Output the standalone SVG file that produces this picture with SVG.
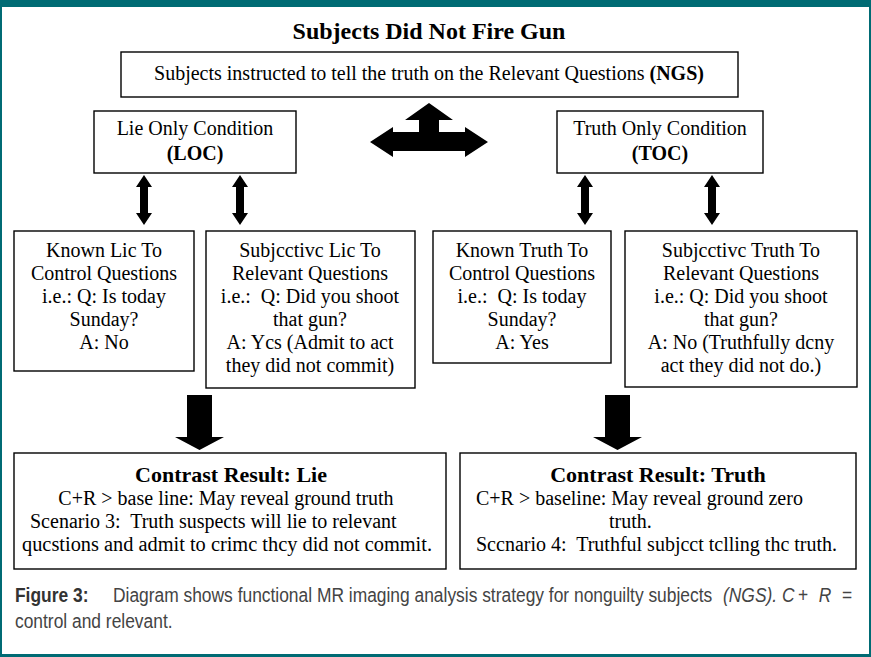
<svg xmlns="http://www.w3.org/2000/svg" width="871" height="657" viewBox="0 0 871 657">
<style>
.box{fill:#fff;stroke:#000;stroke-width:1.4}
.t{font-family:"Liberation Serif","Times New Roman",serif;font-size:20px;fill:#000;text-anchor:middle}
.tl{font-family:"Liberation Serif","Times New Roman",serif;font-size:20px;fill:#000}
.b{font-weight:bold}
.arr{fill:#000}
.cap{font-family:"Liberation Sans",Arial,sans-serif;font-size:20px;fill:#444}
.it{font-style:italic}
</style>
<rect x="0" y="0" width="871" height="657" fill="#fff"/>
<rect x="0" y="0" width="871" height="7" fill="#006b74"/>
<rect x="0" y="0" width="2" height="657" fill="#006b74"/>
<rect x="869" y="0" width="2" height="657" fill="#006b74"/>
<rect x="0" y="654" width="871" height="3" fill="#006b74"/>

<text id="title" class="t b" x="429" y="39" style="font-size:24px">Subjects Did Not Fire Gun</text>

<g id="ngs">
<rect class="box" x="121" y="52" width="617" height="45"/>
<text class="t" x="429" y="80">Subjects instructed to tell the truth on the Relevant Questions <tspan class="b">(NGS)</tspan></text>
</g>
<g id="loc">
<rect class="box" x="94" y="111" width="202" height="62"/>
<text class="t" x="195" y="135">Lie Only Condition</text>
<text class="t b" x="195" y="160">(LOC)</text>
</g>
<g id="toc">
<rect class="box" x="557" y="111" width="206" height="62"/>
<text class="t" x="660" y="135">Truth Only Condition</text>
<text class="t b" x="660" y="160">(TOC)</text>
</g>
<g id="knownlie">
<rect class="box" x="14" y="231" width="180" height="140"/>
<text class="t" x="104" y="257">Known Lic To</text>
<text class="t" x="104" y="280">Control Questions</text>
<text class="t" x="104" y="303">i.e.: Q: Is today</text>
<text class="t" x="104" y="326">Sunday?</text>
<text class="t" x="104" y="349">A: No</text>
</g>
<g id="subjlie">
<rect class="box" x="206" y="231" width="209" height="157"/>
<text class="t" x="310" y="257">Subjcctivc Lic To</text>
<text class="t" x="310" y="280">Relevant Questions</text>
<text class="t" x="310" y="303" xml:space="preserve">i.e.:  Q: Did you shoot</text>
<text class="t" x="310" y="326">that gun?</text>
<text class="t" x="310" y="349">A: Ycs (Admit to act</text>
<text class="t" x="310" y="372">they did not commit)</text>
</g>
<g id="knowntruth">
<rect class="box" x="433" y="231" width="178" height="132"/>
<text class="t" x="522" y="257">Known Truth To</text>
<text class="t" x="522" y="280">Control Questions</text>
<text class="t" x="522" y="303" xml:space="preserve">i.e.:  Q: Is today</text>
<text class="t" x="522" y="326">Sunday?</text>
<text class="t" x="522" y="349">A: Yes</text>
</g>
<g id="subjtruth">
<rect class="box" x="625" y="231" width="232" height="156"/>
<text class="t" x="741" y="257">Subjcctivc Truth To</text>
<text class="t" x="741" y="280">Relevant Questions</text>
<text class="t" x="741" y="303">i.e.: Q: Did you shoot</text>
<text class="t" x="741" y="326">that gun?</text>
<text class="t" x="741" y="349">A: No (Truthfully dcny</text>
<text class="t" x="741" y="372">act they did not do.)</text>
</g>
<g id="resultlie">
<rect class="box" x="14" y="453" width="432" height="116"/>
<text class="t b" x="231" y="482" style="font-size:22px">Contrast Result: Lie</text>
<text class="t" x="226" y="505">C+R &gt; base line: May reveal ground truth</text>
<text class="tl" x="30" y="528" xml:space="preserve">Scenario 3:  Truth suspects will lie to relevant</text>
<text class="tl" x="22" y="551" textLength="410" lengthAdjust="spacingAndGlyphs">qucstions and admit to crimc thcy did not commit.</text>
</g>
<g id="resulttruth">
<rect class="box" x="460" y="453" width="396" height="116"/>
<text class="t b" x="658" y="482" style="font-size:22px">Contrast Result: Truth</text>
<text class="tl" x="476" y="505">C+R &gt; baseline: May reveal ground zero</text>
<text class="tl" x="609" y="528">truth.</text>
<text class="tl" x="476" y="551" xml:space="preserve">Sccnario 4:  Truthful subjcct tclling thc truth.</text>
</g>

<g id="connectors">
<polygon class="arr" points="370,142 393,127 393,132 419,132 419,120 405,120 429,103 453,120 439,120 439,132 465,132 465,127 488,142 465,157 465,151 393,151 393,157"/>
<polygon class="arr" points="144,175 152,187 148,187 148,213 152,213 144,225 136,213 140,213 140,187 136,187"/>
<polygon class="arr" points="240,175 248,187 244,187 244,213 248,213 240,225 232,213 236,213 236,187 232,187"/>
<polygon class="arr" points="585,175 593,187 589,187 589,213 593,213 585,225 577,213 581,213 581,187 577,187"/>
<polygon class="arr" points="712,175 720,187 716,187 716,213 720,213 712,225 704,213 708,213 708,187 704,187"/>
<polygon class="arr" points="187,395 212,395 212,437 224,437 199.5,450 175,437 187,437"/>
<polygon class="arr" points="605,395 630,395 630,437 642,437 617.5,450 593,437 605,437"/>
</g>

<g id="caption" transform="translate(15 0) scale(0.87 1)">
<text class="cap" x="0" y="602"><tspan style="font-weight:bold;fill:#333">Figure 3:</tspan><tspan x="112.6">Diagram shows functional MR imaging analysis strategy for nonguilty subjects</tspan><tspan class="it" x="813.8">(NGS).</tspan><tspan class="it" x="881.6">C</tspan><tspan x="900">+</tspan><tspan class="it" x="924">R</tspan><tspan x="950.6">=</tspan></text>
<text class="cap" x="0" y="628">control and relevant.</text>
</g>
</svg>
